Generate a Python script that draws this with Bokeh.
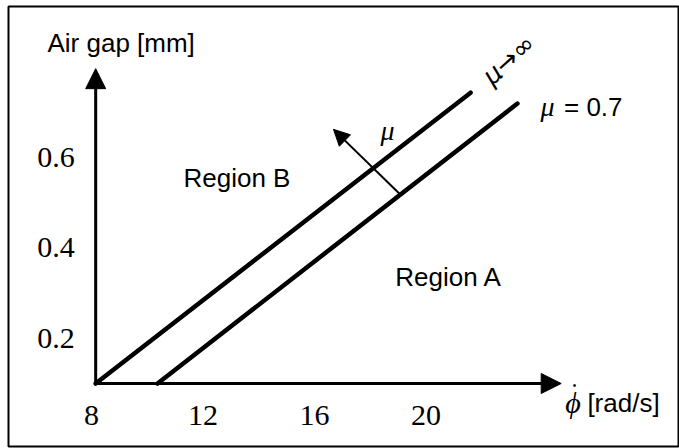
import math
from bokeh.plotting import figure
from bokeh.models import Label, Arrow, NormalHead, FixedTicker, Range1d
from bokeh.embed import file_html
from bokeh.resources import INLINE

# ---- data ----
x_ticks = [8, 12, 16, 20]
y_ticks = [0.2, 0.4, 0.6]
x_origin = 8.15
y_origin = 0.1
x_axis_end = 24.85
y_axis_end = 0.795

line_inf_x = [8.15, 21.6]      # mu -> infinity boundary
line_inf_y = [0.1, 0.742]
line_07_x = [10.37, 23.28]     # mu = 0.7 boundary
line_07_y = [0.1, 0.718]

mu_arrow_x = [19.05, 16.68]
mu_arrow_y = [0.519, 0.661]

SANS = "Liberation Sans"
SERIF = "Liberation Serif"

p = figure(width=679, height=448, output_backend="svg", toolbar_location=None,
           x_range=Range1d(5.0224, 29.0942), y_range=Range1d(-0.03907, 0.93223),
           min_border_left=8, min_border_top=6, min_border_bottom=2, min_border_right=0)
p.title.visible = False
p.grid.visible = False
p.background_fill_color = "white"
p.border_fill_color = "white"
p.outline_line_color = "black"
p.outline_line_width = 2

# axes: only tick labels, placed at the origin inside the frame
p.xaxis.fixed_location = y_origin
p.yaxis.fixed_location = x_origin
p.xaxis.ticker = FixedTicker(ticks=x_ticks)
p.yaxis.ticker = FixedTicker(ticks=y_ticks)
for ax in (p.xaxis, p.yaxis):
    ax.axis_line_color = None
    ax.major_tick_line_color = None
    ax.minor_tick_line_color = None
    ax.major_tick_in = 0
    ax.major_tick_out = 0
    ax.major_label_text_font = SERIF
    ax.major_label_text_font_size = "30px"
    ax.major_label_text_color = "black"
p.xaxis.major_label_standoff = 22
p.yaxis.major_label_standoff = 21

# axis arrows
p.add_layout(Arrow(end=NormalHead(size=20, fill_color="black", line_color="black"),
                   x_start=x_origin, y_start=y_origin, x_end=x_origin, y_end=y_axis_end,
                   line_width=3, line_color="black"))
p.add_layout(Arrow(end=NormalHead(size=20, fill_color="black", line_color="black"),
                   x_start=x_origin, y_start=y_origin, x_end=x_axis_end, y_end=y_origin,
                   line_width=3, line_color="black"))

# boundary lines
p.line(line_inf_x, line_inf_y, line_width=4.5, line_color="black", line_cap="round")
p.line(line_07_x, line_07_y, line_width=4.5, line_color="black", line_cap="round")

# mu direction arrow
p.add_layout(Arrow(end=NormalHead(size=16, fill_color="black", line_color="black"),
                   x_start=mu_arrow_x[0], y_start=mu_arrow_y[0],
                   x_end=mu_arrow_x[1], y_end=mu_arrow_y[1],
                   line_width=2, line_color="black"))

def lab(x, y, text, font=SANS, size="26px", style="normal", align="left",
        baseline="middle", angle=0.0):
    p.add_layout(Label(x=x, y=y, text=text, text_font=font, text_font_size=size,
                       text_font_style=style, text_align=align, text_baseline=baseline,
                       angle=angle, text_color="black"))

lab(6.42, 0.851, "Air gap [mm]")
lab(11.3, 0.553, "Region B")
lab(18.9, 0.336, "Region A")
lab(18.62, 0.659, "μ", font=SERIF, size="28px", style="italic", align="center")
lab(24.11, 0.711, "μ", font=SERIF, size="28px", style="italic")
lab(24.95, 0.711, "= 0.7")
lab(22.96, 0.815, "μ→∞", font="DejaVu Sans", size="26px", style="italic", align="center",
    angle=math.radians(42))
lab(25.0, 0.058, "\u03d5", font=SERIF, size="30px", style="italic")
lab(25.33, 0.096, "•", font=SANS, size="10px", align="center")
lab(25.79, 0.058, "[rad/s]")

open("out.html", "w").write(file_html(p, INLINE))
